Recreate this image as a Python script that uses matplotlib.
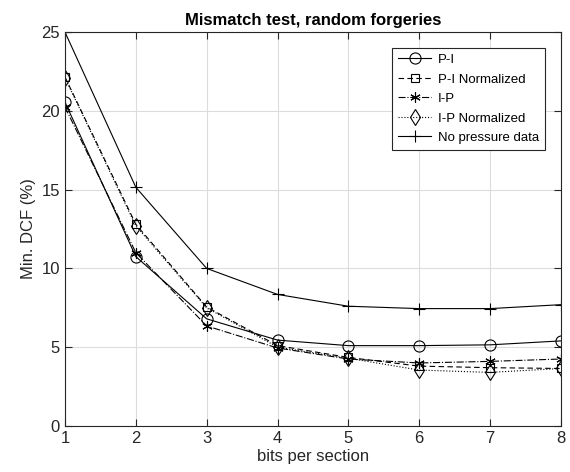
import matplotlib
matplotlib.use("Agg")
import matplotlib.pyplot as plt

plt.rcParams["font.family"] = ["Liberation Sans", "DejaVu Sans"]

# ── Data ──────────────────────────────────────────────────────────────────────
bits = [1, 2, 3, 4, 5, 6, 7, 8]
p_i = [20.55, 10.75, 6.8, 5.45, 5.1, 5.1, 5.15, 5.4]
p_i_norm = [22.15, 12.8, 7.55, 5.1, 4.35, 3.8, 3.7, 3.65]
i_p = [20.25, 11.0, 6.35, 4.95, 4.25, 4.0, 4.1, 4.25]
i_p_norm = [22.1, 12.7, 7.5, 5.0, 4.3, 3.55, 3.4, 3.65]
no_pressure = [25.0, 15.15, 10.0, 8.35, 7.6, 7.45, 7.45, 7.7]

fig = plt.figure(figsize=(5.7, 4.72), dpi=100)
ax = fig.add_axes([0.114, 0.0975, 0.87, 0.8345])

lw = 0.8
ax.plot(bits, p_i, "-", color="black", lw=lw, marker="o", ms=8,
        mfc="none", mew=0.8, label="P-I")
ax.plot(bits, p_i_norm, "--", color="black", lw=lw, marker="s", ms=6,
        mfc="none", mew=0.8, label="P-I Normalized", dashes=(5, 3))
ax.plot(bits, i_p, "-.", color="black", lw=lw, marker=(6, 2, 0), ms=7.5,
        mew=0.8, label="I-P")
ax.plot(bits, i_p_norm, ":", color="black", lw=lw, marker="d", ms=8,
        mfc="none", mew=0.8, label="I-P Normalized")
ax.plot(bits, no_pressure, "-", color="black", lw=lw, marker="+", ms=9,
        mew=0.8, label="No pressure data")

ax.set_xlim(1, 8)
ax.set_ylim(0, 25)
ax.set_xticks(bits)
ax.set_yticks([0, 5, 10, 15, 20, 25])
ax.grid(True, color="#dcdcdc", lw=0.8)
ax.set_axisbelow(True)
ax.tick_params(direction="in", labelsize=12, length=5, top=True, right=True,
               colors="#262626")
for s in ax.spines.values():
    s.set_linewidth(0.8)
    s.set_color("#262626")

ax.set_xlabel("bits per section", fontsize=12, color="#262626", labelpad=2)
ax.set_ylabel("Min. DCF (%)", fontsize=12, color="#262626")
ax.set_title("Mismatch test, random forgeries", fontsize=12, fontweight="bold",
             pad=5)

leg = ax.legend(loc="upper right", fontsize=9.5, fancybox=False,
                framealpha=1, edgecolor="#262626", handlelength=2.5,
                handletextpad=0.5, borderaxespad=1.2, labelspacing=0.55,
                borderpad=0.45)
leg.get_frame().set_linewidth(0.8)

fig.savefig("out.png", dpi=100)
